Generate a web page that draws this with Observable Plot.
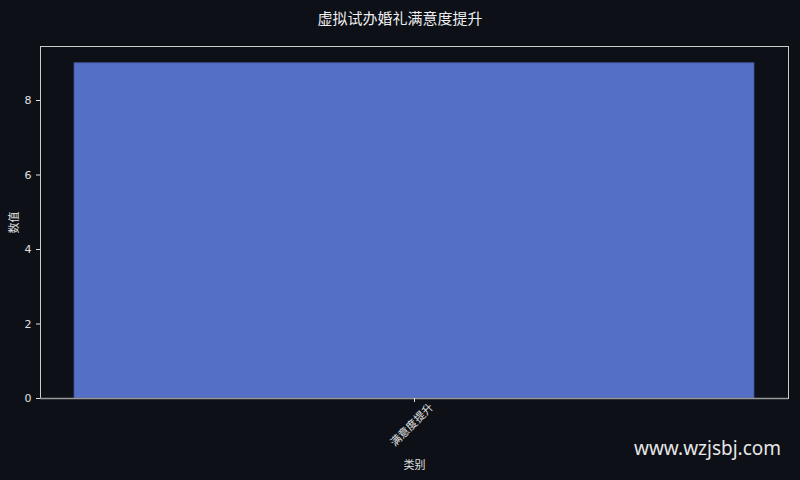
<!DOCTYPE html>
<html><head><meta charset="utf-8">
<script src="https://cdn.jsdelivr.net/npm/d3@7"></script>
<script src="https://cdn.jsdelivr.net/npm/@observablehq/plot@0.6"></script>
<style>
html,body{margin:0;padding:0;background:#0d1017;width:800px;height:480px;overflow:hidden;}
#wrap{position:relative;width:800px;height:480px;font-family:"DejaVu Sans","Noto Sans CJK SC",sans-serif;}
#title{height:38px;line-height:36px;text-align:center;color:#eeeeee;font-size:15px;font-family:"Noto Sans CJK SC",sans-serif;}
#wm{position:absolute;left:634px;top:435px;color:#e6e6e6;font-size:19px;font-family:"Noto Sans",sans-serif;}
</style></head>
<body><div id="wrap"><div id="title">虚拟试办婚礼满意度提升</div><div id="chart"></div><div id="wm">www.wzjsbj.com</div></div>
<script>
const categories = ["满意度提升"];
const values = [9];
const yTicks = [0, 2, 4, 6, 8];
const data = categories.map((c, i) => ({category: c, value: values[i]}));

const chart = Plot.plot({
  width: 800,
  height: 442,
  marginTop: 8,
  marginBottom: 82,
  marginLeft: 40,
  marginRight: 12,
  style: {background: "#0d1017", color: "#e0e0e0", fontSize: "11px", fontFamily: "DejaVu Sans, Noto Sans CJK SC, sans-serif"},
  x: {type: "band", domain: categories, paddingInner: 0, paddingOuter: 0.05},
  y: {domain: [0, 9.45]},
  marks: [
    Plot.barY(data, {x: "category", y: "value", fill: "#5470c6", stroke: "#3f5597", strokeWidth: 0.8}),
    Plot.frame({stroke: "#cccccc", strokeWidth: 1}),
    Plot.ruleY([0], {stroke: "#999999", strokeWidth: 1.5}),
    Plot.axisY({ticks: yTicks, tickSize: 4, label: "数值", labelArrow: "none", labelAnchor: "center", labelOffset: 30}),
    Plot.axisX({tickSize: 4, tickFormat: () => "", label: "类别", labelArrow: "none", labelAnchor: "center", labelOffset: 70}),
    Plot.text(data, {x: "category", frameAnchor: "bottom", dy: 29, rotate: -45, textAnchor: "middle", text: "category", fill: "#e0e0e0", fontSize: 11})
  ]
});
document.getElementById("chart").appendChild(chart);
</script>
</body></html>
